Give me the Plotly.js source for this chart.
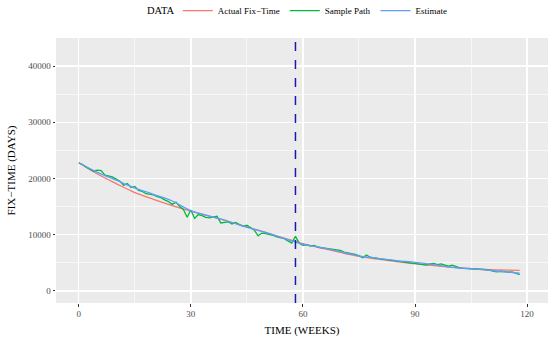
<!DOCTYPE html>
<html><head><meta charset="utf-8">
<script src="https://cdn.plot.ly/plotly-3.0.1.min.js"></script>
<style>html,body{margin:0;padding:0;background:#fff}#c{width:550px;height:345px}</style>
</head><body><div id="c"></div>
<script>
const actualWeeks = [0,5,10,15,20,25,30,35,40,45,50,55,58,60,65,70,75,80,85,90,95,100,105,110,115,118];
const actualValues = [22800,20800,19100,17500,16300,15200,14200,13300,12400,11400,10400,9400,8800,8400,7600,6850,6150,5650,5200,4850,4500,4200,3950,3800,3700,3650];
const estimateWeeks = actualWeeks;
const estimateValues = [22800,21100,19700,18300,17200,16000,14300,13300,12400,11300,10400,9300,8700,8300,7700,7000,6250,5800,5400,5100,4700,4200,3950,3650,3350,3150];
const sampleWeeks = Array.from({length:119},(_, i)=>i);
const sampleValues = [22800,22500,22000,21600,21300,21500,21400,20600,20400,20300,19900,
19500,18800,19100,18400,18600,17900,17700,17300,17200,17100,16800,16600,16200,15900,15400,15800,15000,14500,13100,14400,
12900,13600,13400,13100,13000,13200,13300,12100,12200,12300,11900,12200,11800,11500,11700,11300,10800,9800,10300,10200,
10100,9900,9600,9400,9300,8900,8500,9700,8500,8100,8200,8000,8100,7800,7700,7500,7400,7300,7300,7200,
6900,6800,6700,6500,6300,5900,6400,6000,5900,5800,5700,5600,5500,5400,5300,5300,5200,5100,5000,4900,
4800,4700,4600,4800,4900,4700,4800,4600,4400,4600,4300,4100,4000,4000,3950,3900,3900,3850,3800,3700,
3500,3400,3500,3400,3350,3400,3100,2900];
const vlineWeek = 58;
const xTicks = [0,30,60,90,120];
const yTicks = [0,10000,20000,30000,40000];
const legendTitle = 'DATA';

const font = '"Liberation Serif", "Times New Roman", serif';
const traces = [
 {x:actualWeeks,y:actualValues,name:'Actual Fix\u2212Time',mode:'lines',line:{color:'#F8766D',width:1.3,shape:'spline'}},
 {x:sampleWeeks,y:sampleValues,name:'Sample Path',mode:'lines',line:{color:'#00BA38',width:1.3}},
 {x:estimateWeeks,y:estimateValues,name:'Estimate',mode:'lines',line:{color:'#619CFF',width:1.3,shape:'spline'}}
];
const layout = {
 width:550,height:345,
 margin:{l:56,r:2,t:38,b:42,autoexpand:false},
 paper_bgcolor:'#fff',plot_bgcolor:'#EBEBEB',
 font:{family:font,color:'#000'},
 showlegend:true,
 legend:{orientation:'h',x:0.527,xanchor:'center',y:1.103,yanchor:'middle',
   font:{family:font,size:9,color:'#000'},itemwidth:30,tracegroupgap:0},
 annotations:[{text:legendTitle,xref:'paper',yref:'paper',x:0.246,y:1.103,xanchor:'right',yanchor:'middle',
   showarrow:false,font:{family:font,size:10.5,color:'#000'}}],
 xaxis:{range:[-6.1,125.6],tickvals:xTicks,ticktext:xTicks.map(String),zeroline:false,automargin:false,
   showgrid:true,gridcolor:'#FFFFFF',gridwidth:1.4,ticks:'outside',ticklen:2.5,tickcolor:'#333',tickwidth:1,
   tickfont:{family:font,size:9,color:'#4D4D4D'},showline:false,
   minor:{dtick:15,tick0:15,showgrid:true,gridcolor:'#FFFFFF',gridwidth:0.6},
   title:{text:'TIME (WEEKS)',font:{family:font,size:11,color:'#000'},standoff:8}},
 yaxis:{range:[-2143,45000],tickvals:yTicks,ticktext:yTicks.map(String),zeroline:false,automargin:false,
   showgrid:true,gridcolor:'#FFFFFF',gridwidth:1.4,ticks:'outside',ticklen:2.5,tickcolor:'#333',tickwidth:1,
   tickfont:{family:font,size:9,color:'#4D4D4D'},showline:false,
   minor:{dtick:10000,tick0:5000,showgrid:true,gridcolor:'#FFFFFF',gridwidth:0.6},
   title:{text:'FIX\u2212TIME (DAYS)',font:{family:font,size:11,color:'#000'},standoff:10}},
 shapes:[{type:'line',xref:'x',yref:'paper',x0:vlineWeek,x1:vlineWeek,y0:0,y1:1,
   line:{color:'#1A1AAA',width:1.5,dash:'dash'}}]
};
Plotly.newPlot('c',traces,layout,{displayModeBar:false,staticPlot:true});
</script></body></html>
